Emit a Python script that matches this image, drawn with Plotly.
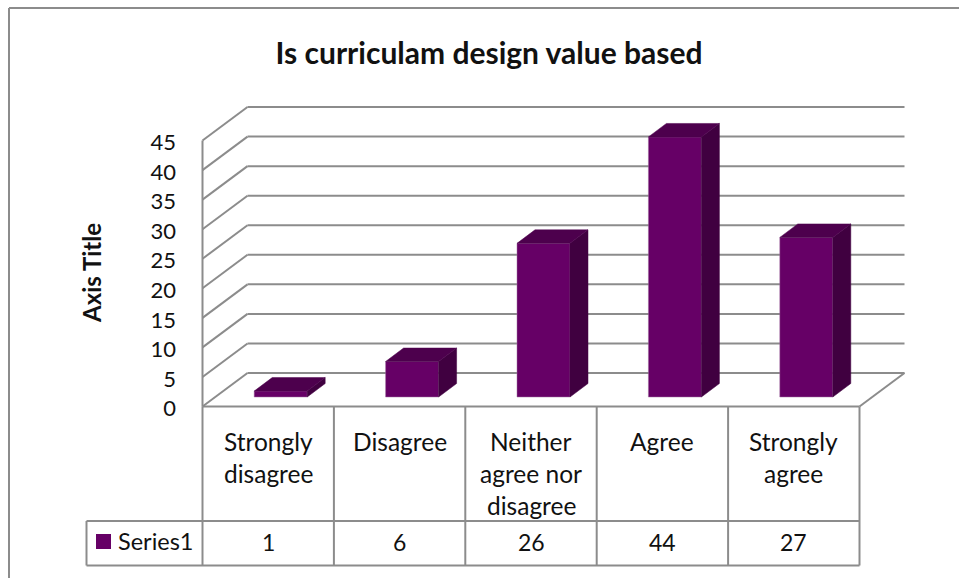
import plotly.graph_objects as go

categories = ["Strongly disagree", "Disagree", "Neither agree nor disagree", "Agree", "Strongly agree"]
category_lines = [["Strongly", "disagree"], ["Disagree"], ["Neither", "agree nor", "disagree"], ["Agree"], ["Strongly", "agree"]]
values = [1, 6, 26, 44, 27]
y_ticks = [0, 5, 10, 15, 20, 25, 30, 35, 40, 45]
series_name = "Series1"
title = "Is curriculam design value based"
axis_title = "Axis Title"

W, H = 959, 579
FONT = "Lato"
GREY = "#8c8c8c"
TEXT = "#111111"
FRONT, SIDE, TOP = "#660066", "#400040", "#4d004d"

# pixel geometry of the pseudo-3D box
PX_CAT = 131.4          # px per category
PX_UNIT = 5.91          # px per value unit
X0_PX, Y0_PX = 202.5, 406.5
DOM_L, DOM_R, DOM_T, DOM_B = 195, 912, 100, 414
WALL_DX, WALL_DY = 45 / PX_CAT, 33.5 / PX_UNIT
BAR_W = 53 / PX_CAT
BAR_SHIFT = 12.5 / PX_CAT
BAR_BASE = 9.5 / PX_UNIT
DEPTH_DX, DEPTH_DY = 18 / PX_CAT, 13.5 / PX_UNIT
TICK_NUDGE = 2 / PX_UNIT


def px(x):
    return x / W


def py(y):
    return 1 - y / H


xr = [-0.5 + (DOM_L - X0_PX) / PX_CAT, -0.5 + (DOM_R - X0_PX) / PX_CAT]
yr = [(Y0_PX - DOM_B) / PX_UNIT, (Y0_PX - DOM_T) / PX_UNIT]
idx = list(range(len(categories)))

fig = go.Figure()
fig.add_trace(go.Bar(
    x=idx, y=values, base=BAR_BASE, width=BAR_W, offset=BAR_SHIFT - BAR_W / 2,
    name=series_name, marker=dict(color=FRONT, line=dict(color="#a070a0", width=0.5)),
    showlegend=False, customdata=categories,
))
for i, v in zip(idx, values):
    xl = i + BAR_SHIFT - BAR_W / 2
    xr_ = xl + BAR_W
    top = BAR_BASE + v
    fig.add_trace(go.Scatter(
        x=[xr_, xr_ + DEPTH_DX, xr_ + DEPTH_DX, xr_, xr_],
        y=[BAR_BASE, BAR_BASE + DEPTH_DY, top + DEPTH_DY, top, BAR_BASE],
        mode="lines", fill="toself", fillcolor=SIDE, line=dict(color=SIDE, width=0.5),
        showlegend=False, hoverinfo="skip"))
    fig.add_trace(go.Scatter(
        x=[xl, xr_, xr_ + DEPTH_DX, xl + DEPTH_DX, xl],
        y=[top, top, top + DEPTH_DY, top + DEPTH_DY, top],
        mode="lines", fill="toself", fillcolor=TOP, line=dict(color=TOP, width=0.5),
        showlegend=False, hoverinfo="skip"))

shapes = []
line = dict(color=GREY, width=2)


def data_line(x0, y0, x1, y1):
    shapes.append(dict(type="line", xref="x", yref="y", x0=x0, y0=y0, x1=x1, y1=y1,
                       line=line, layer="below"))


def pix_line(x0, y0, x1, y1):
    shapes.append(dict(type="line", xref="paper", yref="paper", x0=px(x0), y0=py(y0),
                       x1=px(x1), y1=py(y1), line=line, layer="below"))


xa, xb = idx[0] - 0.5, idx[-1] + 0.5
for t in y_ticks:
    data_line(xa, t, xa + WALL_DX, t + WALL_DY)
    data_line(xa + WALL_DX, t + WALL_DY, xb + WALL_DX, t + WALL_DY)
data_line(xa, 0, xa, y_ticks[-1])
data_line(xa, 0, xb, 0)
data_line(xb, 0, xb + WALL_DX, WALL_DY)

# data table rules
cell_edges = [X0_PX + k * PX_CAT for k in range(len(categories) + 1)]
TABLE_TOP, TABLE_BOT, TABLE_L = 521, 565.5, 86.5
for xe in cell_edges:
    pix_line(xe, Y0_PX, xe, TABLE_BOT)
pix_line(TABLE_L, TABLE_TOP, cell_edges[-1], TABLE_TOP)
pix_line(TABLE_L, TABLE_BOT, cell_edges[-1], TABLE_BOT)
pix_line(TABLE_L, TABLE_TOP, TABLE_L, TABLE_BOT)

# outer frame
pix_line(9, 8, 959, 8)
pix_line(9, 8, 9, 578)

# legend key in the table
shapes.append(dict(type="rect", xref="paper", yref="paper", x0=px(96), x1=px(111), y0=py(549), y1=py(534),
                   fillcolor=FRONT, line=dict(width=0)))

ann = []
for i, lines in zip(idx, category_lines):
    for k, s in enumerate(lines):
        ann.append(dict(x=i, xref="x", y=py(441 + 32 * k), yref="paper", text=s, showarrow=False,
                        xanchor="center", yanchor="middle", font=dict(family=FONT, size=24.5, color=TEXT)))
for i, v in zip(idx, values):
    ann.append(dict(x=i, xref="x", y=py(542), yref="paper", text=str(v), showarrow=False,
                    xanchor="center", yanchor="middle", font=dict(family=FONT, size=23, color=TEXT)))
ann.append(dict(x=px(116), xref="paper", y=py(540.5), yref="paper", text=series_name, showarrow=False,
                xanchor="left", yanchor="middle", font=dict(family=FONT, size=23.5, color=TEXT)))
ann.append(dict(x=px(91), xref="paper", y=py(273), yref="paper", text="<b>%s</b>" % axis_title, showarrow=False,
                textangle=-90, xanchor="center", yanchor="middle", font=dict(family=FONT, size=24, color=TEXT)))

fig.update_layout(
    width=W, height=H, autosize=False, margin=dict(l=0, r=0, t=0, b=0, autoexpand=False),
    paper_bgcolor="white", plot_bgcolor="rgba(0,0,0,0)", showlegend=False,
    title=dict(text="<b>%s</b>" % title, x=px(489), xanchor="center", xref="paper",
               y=py(53), yanchor="middle", yref="paper", font=dict(family=FONT, size=30, color=TEXT)),
    xaxis=dict(domain=[px(DOM_L), px(DOM_R)], range=xr, tickvals=idx, ticktext=[""] * len(idx),
               ticks="", showgrid=False, zeroline=False, showline=False, fixedrange=True),
    yaxis=dict(domain=[py(DOM_B), py(DOM_T)], range=yr, tickvals=[t - TICK_NUDGE for t in y_ticks],
               ticktext=[str(t) for t in y_ticks], ticks="",
               showgrid=False, zeroline=False, showline=False, ticklabelstandoff=18,
               tickfont=dict(family=FONT, size=22, color=TEXT), fixedrange=True),
    shapes=shapes, annotations=ann,
)
fig.write_html("out.html", config=dict(displayModeBar=False),
               post_script="document.body.style.margin='0';document.body.style.overflow='hidden';")
